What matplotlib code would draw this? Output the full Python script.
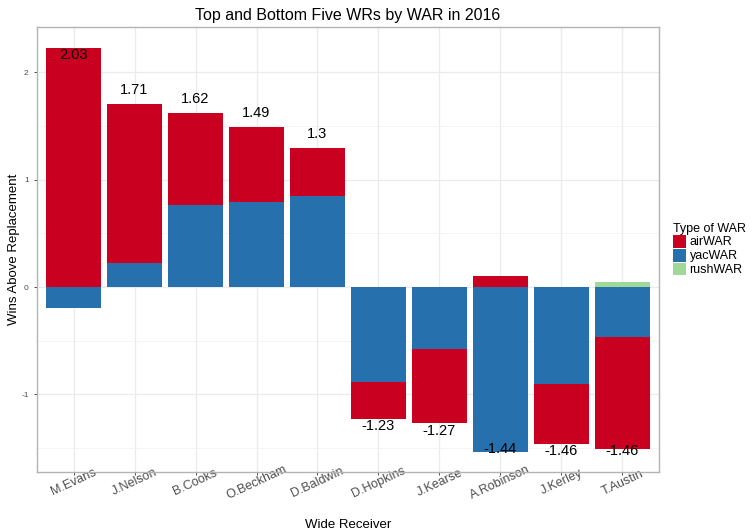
import numpy as np
import matplotlib
matplotlib.use("Agg")
import matplotlib.pyplot as plt
from matplotlib.patches import Patch

plt.rcParams["font.family"] = ["Liberation Sans", "DejaVu Sans"]

# ── DATA ────────────────────────────────────────────────────────────
players = ["M.Evans", "J.Nelson", "B.Cooks", "O.Beckham", "D.Baldwin",
           "D.Hopkins", "J.Kearse", "A.Robinson", "J.Kerley", "T.Austin"]
air_war = [2.23, 1.49, 0.86, 0.70, 0.45, -0.345, -0.69, 0.10, -0.56, -1.04]
yac_war = [-0.20, 0.22, 0.76, 0.79, 0.85, -0.885, -0.58, -1.54, -0.90, -0.47]
rush_war = [0.0, 0.0, 0.0, 0.0, 0.0, 0.0, 0.0, 0.0, 0.0, 0.05]
total_war = [2.03, 1.71, 1.62, 1.49, 1.3, -1.23, -1.27, -1.44, -1.46, -1.46]

colors = {"airWAR": "#CA0020", "yacWAR": "#2570AD", "rushWAR": "#A0D897"}

fig = plt.figure(figsize=(7.56, 5.32), dpi=100)
ax = fig.add_axes([0.0489, 0.1128, 0.8228, 0.837])

x = np.arange(1, len(players) + 1)
pos_base = np.zeros(len(players))
neg_base = np.zeros(len(players))

# stack yac nearest zero, then air, then rush (positive and negative separately)
for name, vals in [("yacWAR", yac_war), ("airWAR", air_war),
                   ("rushWAR", rush_war)]:
    vals = np.array(vals)
    bottoms = np.where(vals >= 0, pos_base, neg_base)
    ax.bar(x, vals, width=0.9, bottom=bottoms, color=colors[name],
           edgecolor="none", zorder=3)
    pos_base = pos_base + np.clip(vals, 0, None)
    neg_base = neg_base + np.clip(vals, None, 0)

for xi, t in zip(x, total_war):
    ypos = t + 0.13 if t > 0 else t - 0.07
    ax.text(xi, ypos, f"{t:g}", ha="center", va="center",
            fontsize=10.5, color="black", zorder=4)

ax.set_xlim(0.4, 10.6)
ax.set_ylim(-1.724, 2.426)
ax.set_xticks(x)
ax.set_xticklabels(players, rotation=25, ha="center", va="center",
                   rotation_mode="anchor", fontsize=9, color="#4D4D4D")
ax.set_yticks([-1, 0, 1, 2])
ax.set_yticklabels(["-1", "0", "1", "2"], fontsize=6, color="#4D4D4D")
ax.set_yticks([-1.5, -0.5, 0.5, 1.5], minor=True)
ax.tick_params(axis="both", which="major", length=2.5, color="#333333",
               width=0.6)
ax.tick_params(axis="x", which="major", pad=5.0)
ax.tick_params(axis="y", which="minor", length=0)
ax.grid(True, which="major", color="#EBEBEB", linewidth=0.9, zorder=0)
ax.grid(True, which="minor", axis="y", color="#F2F2F2", linewidth=0.6,
        zorder=0)
for s in ax.spines.values():
    s.set_color("#B3B3B3")
    s.set_linewidth(1.0)

ax.set_xlabel("Wide Receiver", fontsize=9.5, va="top")
ax.xaxis.set_label_coords(0.5, -0.1056)
ax.set_ylabel("Wins Above Replacement", fontsize=9.5)
ax.yaxis.set_label_coords(-0.0273, 0.5)
ax.set_title("Top and Bottom Five WRs by WAR in 2016", fontsize=11.5,
             pad=5)

handles = [Patch(facecolor=colors[k], edgecolor="none")
           for k in ["airWAR", "yacWAR", "rushWAR"]]
leg = fig.legend(handles, ["airWAR", "yacWAR", "rushWAR"],
                 title="Type of WAR", loc="upper left",
                 bbox_to_anchor=(0.879, 0.598), frameon=False,
                 fontsize=9, title_fontsize=9, handlelength=1.0,
                 handleheight=1.2, handletextpad=0.3, labelspacing=0.02,
                 borderpad=0.2)
leg._legend_box.align = "left"

fig.savefig("out.png", dpi=100)
